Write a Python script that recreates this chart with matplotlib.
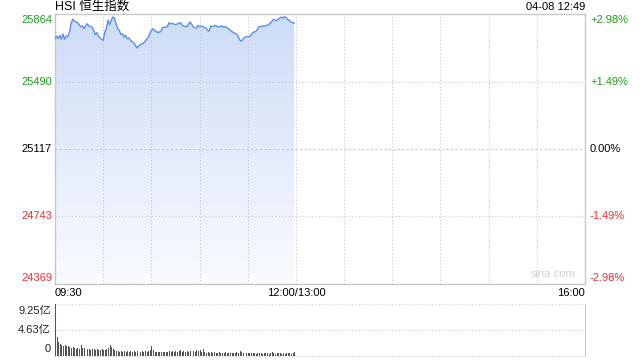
import numpy as np
import matplotlib
matplotlib.use('Agg')
import matplotlib.pyplot as plt
from matplotlib.colors import LinearSegmentedColormap

plt.rcParams['font.family'] = ['Liberation Sans', 'Noto Sans CJK SC', 'DejaVu Sans']

title = 'HSI 恒生指数'
stamp = '04-08 12:49'
prev_close = 25117
price_ticks = [24369, 24743, 25117, 25490, 25864]
pct_labels = ['-2.98%', '-1.49%', '0.00%', '+1.49%', '+2.98%']
time_labels = ['09:30', '12:00/13:00', '16:00']
vol_ticks = [0, 4.63, 9.25]
vol_labels = ['0', '4.63亿', '9.25亿']

# minutes since 09:30 (morning session)
minutes = [0, 1, 2, 3, 4, 5, 6, 7, 8, 9, 10, 11, 13, 14, 15, 16, 17, 18, 19, 20,
           21, 23, 24, 25, 26, 27, 28, 30, 31, 32, 33, 34, 35, 36, 37, 38, 39, 40, 41, 42,
           43, 44, 45, 46, 47, 49, 50, 51, 52, 53, 55, 56, 57, 58, 60, 61, 62, 63, 64, 66,
           67, 68, 70, 71, 72, 73, 75, 77, 78, 79, 80, 82, 83, 84, 85, 86, 88, 89, 90, 91,
           93, 94, 95, 96, 97, 98, 100, 101, 102, 104, 105, 106, 108, 109, 110, 111, 113, 114, 115, 116,
           117, 118, 120, 121, 122, 123, 125, 126, 127, 128, 130, 131, 132, 133, 135, 136, 137, 138, 140, 141,
           142, 143, 145, 146, 147, 148, 149]
prices = [25727, 25742, 25727, 25746, 25724, 25753, 25724, 25742, 25739, 25764, 25810, 25834, 25820, 25816, 25805, 25794, 25798, 25783, 25798, 25810,
          25798, 25792, 25774, 25750, 25761, 25742, 25731, 25718, 25764, 25783, 25829, 25805, 25829, 25847, 25842, 25810, 25783, 25774, 25750, 25755,
          25737, 25746, 25727, 25731, 25718, 25705, 25691, 25676, 25687, 25694, 25702, 25713, 25724, 25735, 25774, 25783, 25772, 25768, 25761, 25768,
          25790, 25790, 25794, 25816, 25809, 25812, 25805, 25812, 25816, 25805, 25798, 25794, 25805, 25820, 25810, 25792, 25786, 25801, 25794, 25798,
          25790, 25786, 25772, 25768, 25798, 25794, 25801, 25794, 25794, 25798, 25790, 25794, 25783, 25775, 25768, 25761, 25753, 25742, 25720, 25713,
          25724, 25735, 25739, 25739, 25746, 25761, 25768, 25779, 25794, 25794, 25798, 25798, 25801, 25805, 25823, 25834, 25831, 25827, 25842, 25847,
          25842, 25849, 25834, 25827, 25820, 25816, 25814]

# volume per minute, in 亿
volume = [9.25, 3.3, 2.5, 2.1, 1.9, 1.8, 1.9, 1.8, 1.7, 1.6,
          1.5, 1.6, 1.4, 1.3, 1.4, 1.3, 2.0, 1.5, 1.4, 1.3,
          1.2, 1.3, 1.1, 1.2, 1.2, 1.1, 1.2, 1.0, 1.1, 1.2,
          1.0, 1.1, 1.2, 1.4, 1.9, 1.6, 1.3, 1.1, 0.9, 0.9,
          0.8, 0.9, 0.8, 0.9, 0.8, 0.9, 0.8, 0.9, 0.8, 0.9,
          0.8, 0.9, 1.0, 0.8, 0.9, 0.8, 0.9, 0.8, 0.9, 1.0,
          1.7, 1.0, 0.8, 0.7, 0.8, 0.7, 0.8, 0.7, 0.8, 0.7,
          0.8, 0.9, 0.8, 0.9, 0.8, 0.9, 0.8, 0.9, 1.0, 0.8,
          0.9, 0.8, 0.9, 0.8, 0.9, 0.8, 0.9, 0.8, 1.0, 0.9,
          1.1, 0.8, 1.2, 0.7, 0.6, 0.7, 0.6, 0.7, 0.6, 0.7,
          0.6, 0.6, 0.7, 0.6, 0.5, 0.6, 0.7, 0.6, 0.5, 0.6,
          0.6, 0.5, 0.6, 0.7, 0.6, 0.9, 0.7, 0.6, 0.5, 0.6,
          0.5, 0.6, 0.5, 0.6, 0.5, 0.4, 0.5, 0.6, 0.5, 0.4,
          0.5, 0.6, 0.5, 0.4, 0.5, 0.8, 0.5, 0.4, 0.5, 0.6,
          0.5, 0.4, 0.5, 0.4, 0.5, 0.6, 0.5, 0.4, 0.5, 0.7]

GREEN = '#1aa01a'
RED = '#f23030'
GRID = '#c8c8c8'
LINE = '#5b8ff0'

fig = plt.figure(figsize=(6.4, 3.6), dpi=100)
ax = fig.add_axes([55 / 640, 1 - 284 / 360, 530 / 640, 270 / 360])
axv = fig.add_axes([55 / 640, 1 - 356 / 360, 530 / 640, 52 / 360])

ymin, ymax = price_ticks[0], price_ticks[-1]
ax.set_xlim(0, 330)
ax.set_ylim(ymin, ymax)

# grid
for k in range(1, 11):
    ax.axvline(30 * k, color=GRID, lw=0.8, ls=(0, (1, 2)), zorder=1)
for p in price_ticks[1:-1]:
    ls = (0, (2, 2)) if p == prev_close else (0, (1, 2))
    ax.axhline(p, color=GRID, lw=0.8, ls=ls, zorder=1)

# gradient fill under the line
poly = ax.fill_between(minutes, prices, ymin, facecolor='none', edgecolor='none')
cmap = LinearSegmentedColormap.from_list('g', ['#f9fbff', '#cddcf7'])
grad = np.linspace(0, 1, 256).reshape(-1, 1)
im = ax.imshow(grad, cmap=cmap, origin='lower', aspect='auto',
               extent=[0, 330, ymin, ymax], zorder=0.5)
im.set_clip_path(poly.get_paths()[0], transform=ax.transData)
ax.plot(minutes, prices, color=LINE, lw=1.0, zorder=3)

for s in ax.spines.values():
    s.set_color('#c8c8c8')
    s.set_linewidth(1)
ax.set_xticks([])
ax.set_yticks([])

# price labels
colors = [RED, RED, 'black', GREEN, GREEN]
offs = [6, 0, 0, 0, -6]
for p, lab, c, o in zip(price_ticks, pct_labels, colors, offs):
    ax.annotate(str(p), (0, p), xycoords=('axes fraction', 'data'),
                xytext=(-3, o), textcoords='offset pixels', ha='right', va='center',
                fontsize=8, color=c)
    ax.annotate(lab, (1, p), xycoords=('axes fraction', 'data'),
                xytext=(5, o), textcoords='offset pixels', ha='left', va='center',
                fontsize=8, color=c)

# time labels
ax.text(0, -0.016, time_labels[0], transform=ax.transAxes, ha='left', va='top', fontsize=8)
ax.text(150 / 330, -0.016, time_labels[1], transform=ax.transAxes, ha='center', va='top', fontsize=8)
ax.text(1, -0.016, time_labels[2], transform=ax.transAxes, ha='right', va='top', fontsize=8)

fig.text(55 / 640, 1 - 7 / 360, title, ha='left', va='center', fontsize=9)
fig.text(585 / 640, 1 - 7 / 360, stamp, ha='right', va='center', fontsize=8)
ax.text(0.94, 0.02, 'sina.com', transform=ax.transAxes, ha='center', va='bottom',
        fontsize=8, color='#d0d0d0')

# volume panel
axv.set_xlim(0, 330)
axv.set_ylim(0, vol_ticks[-1])
axv.bar(np.arange(len(volume)), volume, width=0.6, color='#555555', align='edge', zorder=3)
for v in vol_ticks:
    axv.axhline(v, color=GRID, lw=0.8, ls=(0, (1, 2)), zorder=1, clip_on=False)
for side in ('top', 'bottom'):
    axv.spines[side].set_visible(False)
for side in ('left', 'right'):
    axv.spines[side].set_color('#c8c8c8')
axv.set_xticks([])
axv.set_yticks([])
voffs = [7, 0, -7]
for v, lab, o in zip(vol_ticks, vol_labels, voffs):
    axv.annotate(lab, (0, v), xycoords=('axes fraction', 'data'),
                 xytext=(-4, o), textcoords='offset pixels', ha='right', va='center',
                 fontsize=8, color='#222222')

fig.savefig('out.png', dpi=100)
